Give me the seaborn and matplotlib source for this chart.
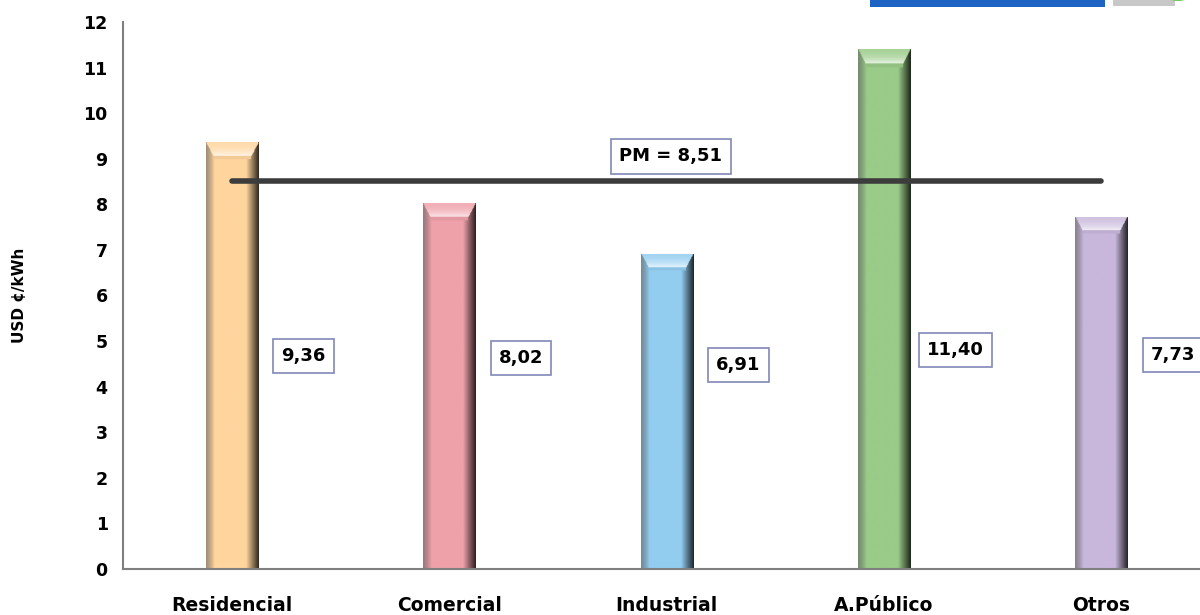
import numpy as np
import matplotlib
matplotlib.use('Agg')
import matplotlib.pyplot as plt
import matplotlib.colors as mcolors
from matplotlib.patches import Rectangle, Circle
import seaborn as sns

# Data
categories = ['Residencial', 'Comercial', 'Industrial', 'A.Público', 'Otros']
values = [9.36, 8.02, 6.91, 11.40, 7.73]
value_labels = ['9,36', '8,02', '6,91', '11,40', '7,73']
pm_value = 8.51
pm_label = 'PM = 8,51'
yticks = list(range(0, 13))

colors = ['#FFD59E', '#EFA1AA', '#92CDF0', '#9ACB88', '#C8B7DB']

sns.set_style('white')
plt.rcParams['font.family'] = ['DejaVu Sans']
plt.rcParams['font.weight'] = 'bold'
plt.rcParams['text.color'] = 'black'
plt.rcParams['xtick.color'] = 'black'
plt.rcParams['ytick.color'] = 'black'
plt.rcParams['axes.labelcolor'] = 'black'

fig = plt.figure(figsize=(12, 6.15), dpi=100)
ax = fig.add_axes([0.1025, 0.0748, 0.906, 0.8895])

sns.barplot(x=categories, y=values, hue=categories, palette=colors,
            width=0.24, legend=False, ax=ax, zorder=2)


def shaded_bar(ax, patch, rgb, nx=80, ny=400, bevel=0.3):
    # cylinder-like shading: grey left edge, dark right edge, light bevel on top
    x0, y0 = patch.get_xy()
    w, h = patch.get_width(), patch.get_height()
    t = np.linspace(0, 1, nx)
    f = np.ones(nx)
    left = t < 0.16
    f[left] = 0.68 + 0.32 * (t[left] / 0.16)
    right = t > 0.76
    f[right] = 1 - 0.8 * ((t[right] - 0.76) / 0.24)
    base = np.array(rgb)
    row = base[None, :] * f[:, None]
    # grey tint on left edge
    grey = np.array([0.55, 0.55, 0.55])
    gl = np.zeros(nx)
    gl[left] = 0.45 * (1 - t[left] / 0.16)
    row = row * (1 - gl[:, None]) + grey[None, :] * gl[:, None]
    img = np.tile(row[None], (ny, 1, 1))
    y = np.linspace(0, h, ny)
    d = h - y
    for i in range(ny):
        if d[i] < bevel:
            k = d[i] / bevel
            inset = 0.14 * k
            m = (t > inset) & (t < 1 - inset)
            wmix = 0.15 + 0.6 * k ** 2
            img[i, m] = base * (1 - wmix) + np.ones(3) * wmix
        elif d[i] < bevel * 1.25:
            m = (t > 0.14) & (t < 0.86)
            img[i, m] = base * 0.95
    im = ax.imshow(img, extent=[x0, x0 + w, y0, y0 + h], origin='lower',
                   aspect='auto', zorder=2, interpolation='bilinear')
    im.set_clip_path(patch)
    patch.set_facecolor('none')
    patch.set_edgecolor('none')


for patch, c in zip(ax.patches, colors):
    shaded_bar(ax, patch, mcolors.to_rgb(c))

ax.set_xlim(-0.5, 4.5)
ax.set_ylim(0, 12)
ax.set_yticks(yticks)

# average price line
ax.plot([0, len(categories) - 1], [pm_value, pm_value], color='#3c3c3c',
        lw=4, solid_capstyle='round', zorder=3)

box = dict(boxstyle='square,pad=0.45', facecolor='white',
           edgecolor='#8088B8', linewidth=1.2)
ax.text(2.02, 9.05, pm_label, ha='center', va='center', fontsize=13,
        fontweight='bold', color='black', bbox=box, zorder=4)

label_y = [4.67, 4.63, 4.47, 4.8, 4.69]
for i, (lab, ly) in enumerate(zip(value_labels, label_y)):
    ax.text(i + 0.33, ly, lab, ha='center', va='center', fontsize=13,
            fontweight='bold', color='black', bbox=box, zorder=4,
            clip_on=False)

for s in ['top', 'right']:
    ax.spines[s].set_visible(False)
for s in ['left', 'bottom']:
    ax.spines[s].set_color('#7f7f7f')
    ax.spines[s].set_linewidth(1.5)
ax.tick_params(axis='y', direction='out', length=6, width=1.5, color='#7f7f7f',
               labelcolor='black', labelsize=12.5, pad=5)
ax.tick_params(axis='x', length=0, labelsize=13.5, pad=19.5, labelcolor='black')
for lab in ax.get_xticklabels() + ax.get_yticklabels():
    lab.set_fontweight('bold')
ax.set_xlabel('')
ax.set_ylabel('USD ¢/kWh', fontsize=11, fontweight='bold', labelpad=41,
              color='black')

# logo fragment at top right
fig.add_artist(Rectangle((870 / 1200, 1 - 7 / 615), 235 / 1200, 7 / 615,
                         transform=fig.transFigure, color='#1C63C4', lw=0))
fig.add_artist(Rectangle((1113 / 1200, 1 - 6 / 615), 62 / 1200, 6 / 615,
                         transform=fig.transFigure, color='#C8C8C8', lw=0))
fig.add_artist(Circle((1178 / 1200, 1 + 8 / 615), 14 / 1200,
                      transform=fig.transFigure, fill=False,
                      edgecolor='#5CC24A', lw=2.5))

fig.savefig('out.png', dpi=100)
